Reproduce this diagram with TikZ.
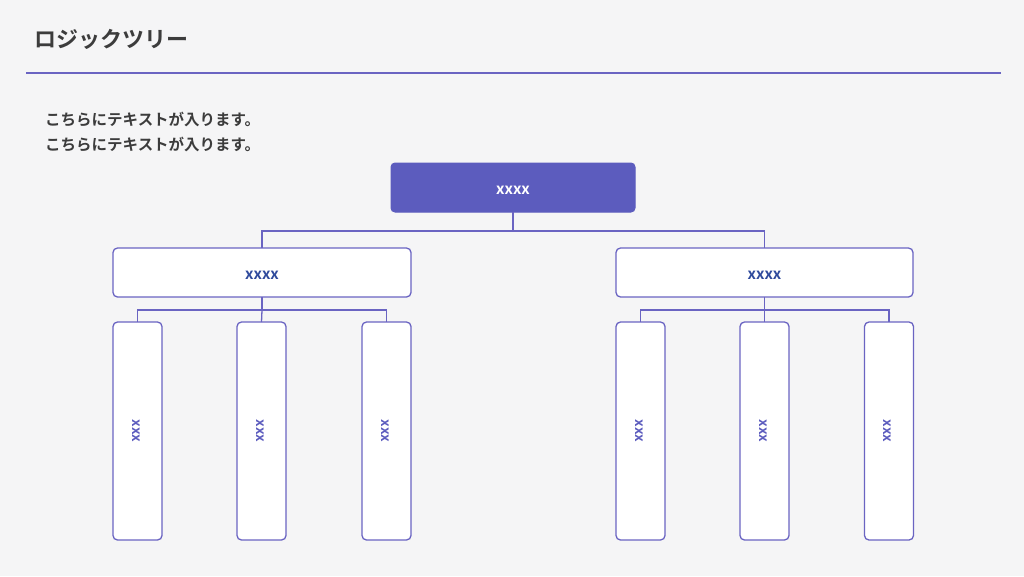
\documentclass[tikz,border=0pt]{standalone}
\usepackage{fontspec}
\setmainfont{Noto Sans CJK JP}
\newfontfamily\jpbold{Noto Sans CJK JP}[BoldFont={* Bold}]
\definecolor{bg}{HTML}{F5F5F6}
\definecolor{accent}{HTML}{5C5CBE}
\definecolor{linec}{HTML}{6A64C2}
\definecolor{txt}{HTML}{3C3C3C}
\definecolor{midtxt}{HTML}{2F4A9C}
\begin{document}
\begin{tikzpicture}[x=1pt,y=-1pt,
  topbox/.style={draw=accent,fill=accent,rounded corners=4pt,line width=1pt},
  midbox/.style={draw=linec,fill=white,rounded corners=4.5pt,line width=1.3pt},
  conn/.style={draw=linec,line width=1.3pt}]
\fill[bg] (0,0) rectangle (1024,576);
\useasboundingbox (0,0) rectangle (1024,576);
\node[anchor=west,text=txt,font=\jpbold\bfseries\fontsize{22}{26}\selectfont,inner sep=0] (title) at (34,39) {ロジックツリー};
\draw[linec,line width=2pt] (26,73) -- (1001,73);
\node[anchor=west,text=txt,font=\jpbold\bfseries\fontsize{15.5}{18}\selectfont,inner sep=0] (t1) at (45,119) {こちらにテキストが入ります。};
\node[anchor=west,text=txt,font=\jpbold\bfseries\fontsize{15.5}{18}\selectfont,inner sep=0] (t2) at (45,144) {こちらにテキストが入ります。};
% top
\draw[topbox] (391,163) rectangle (635,212);
\node[text=white,font=\jpbold\bfseries\fontsize{15}{17}\selectfont] (top) at (513,190.5) {xxxx};
\coordinate (topb) at (513,212);
% mid boxes
\draw[midbox] (113,248) rectangle (411,297);
\node[text=midtxt,font=\jpbold\bfseries\fontsize{15}{17}\selectfont] (ml) at (262,275.5) {xxxx};
\draw[midbox] (616,248) rectangle (913,297);
\node[text=midtxt,font=\jpbold\bfseries\fontsize{15}{17}\selectfont] (mr) at (764.5,275.5) {xxxx};
\coordinate (mlt) at (262,248); \coordinate (mrt) at (764.5,248);
\coordinate (mlb) at (262,297); \coordinate (mrb) at (764.5,297);
\draw[conn] (topb) -- (513,231) -| (mlt);
\draw[conn] (513,231) -| (mrt);
% leaves
\foreach \cx/\nm in {137.5/a,261.5/b,386.5/c,640.5/d,764.5/e,889/f}{
  \draw[midbox] (\cx-24.5,322) rectangle (\cx+24.5,540);
  \coordinate (\nm t) at (\cx,322);
  \node[rotate=-90,text=accent,font=\jpbold\bfseries\fontsize{13.5}{15}\selectfont] (\nm) at (\cx-1.5,431) {xxx};
}
\draw[conn] (mlb) -- (262,310) -| (at);
\draw[conn] (262,310) -| (ct);
\draw[conn] (262,310) -- (bt);
\draw[conn] (mrb) -- (764.5,310) -| (dt);
\draw[conn] (764.5,310) -| (ft);
\draw[conn] (764.5,310) -- (et);
\end{tikzpicture}
\end{document}
